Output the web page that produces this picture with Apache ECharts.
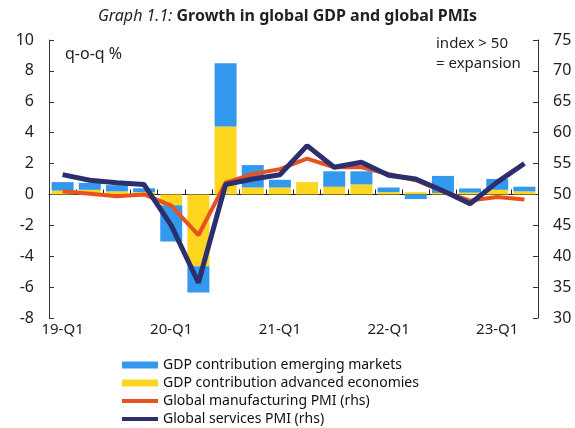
<!DOCTYPE html>
<html>
<head>
<meta charset="utf-8">
<script src="https://cdn.jsdelivr.net/npm/echarts@6/dist/echarts.min.js"></script>
<style>html,body{margin:0;padding:0;background:#fff}#c{width:575px;height:428px}</style>
</head>
<body>
<div id="c"></div>
<script>
var categories = ['19-Q1','19-Q2','19-Q3','19-Q4','20-Q1','20-Q2','20-Q3','20-Q4','21-Q1','21-Q2','21-Q3','21-Q4','22-Q1','22-Q2','22-Q3','22-Q4','23-Q1','23-Q2'];
var gdpAdvanced = [0.25,0.3,0.2,0.15,-0.7,-4.65,4.4,0.45,0.45,0.8,0.5,0.65,0.15,0.15,0.1,0.12,0.3,0.2];
var gdpEmerging = [0.55,0.45,0.4,0.25,-2.35,-1.7,4.1,1.45,0.5,0.0,1.0,0.85,0.3,-0.3,1.1,0.27,0.7,0.3];
var pmiManufacturing = [50.5,50.1,49.7,50.0,48.2,43.4,51.9,53.3,54.1,55.8,54.4,54.4,53.3,52.3,50.5,49.0,49.6,49.2];
var pmiServices = [53.2,52.3,51.9,51.6,45.0,35.7,51.6,52.5,53.2,57.9,54.4,55.2,53.1,52.5,50.6,48.5,52.0,55.0];
var leftTicks = {min:-8, max:10, interval:2};
var rightTicks = {min:30, max:75, interval:5};

var FONT = '"Noto Sans", sans-serif';
var chart = echarts.init(document.getElementById('c'), null, {renderer:'canvas'});
var axisCol = '#333';
var lineIcon = 'path://M0,0M36,7M0,1.6h36v3.8h-36z';
chart.setOption({
  animation:false,
  textStyle:{fontFamily:FONT},
  title:{
    text:'{a|Graph 1.1: }{b|Growth in global GDP and global PMIs}',
    left:'center', top:3,
    textStyle:{rich:{
      a:{fontFamily:FONT, fontStyle:'italic', fontWeight:'normal', fontSize:16, color:'#222'},
      b:{fontFamily:FONT, fontWeight:'bold', fontSize:16, color:'#222'}
    }}
  },
  grid:{left:49, right:37, top:40, bottom:110},
  legend:{
    orient:'vertical', left:117, top:352, height:110,
    itemWidth:36, itemHeight:7, itemGap:2,
    textStyle:{fontFamily:FONT, fontSize:14, color:'#111', lineHeight:16},
    data:[
      {name:'GDP contribution emerging markets', icon:'rect'},
      {name:'GDP contribution advanced economies', icon:'rect'},
      {name:'Global manufacturing PMI (rhs)', icon:lineIcon},
      {name:'Global services PMI (rhs)', icon:lineIcon}
    ]
  },
  xAxis:[
    {type:'category', data:categories, position:'bottom',
     axisLine:{onZero:true, lineStyle:{color:'#222', width:1}},
     axisTick:{show:true, inside:true, length:5, interval:0, lineStyle:{color:'#222'}},
     axisLabel:{show:false}, splitLine:{show:false}},
    {type:'category', data:categories, position:'bottom',
     axisLine:{show:false}, axisTick:{show:false},
     axisLabel:{interval:3, margin:4, fontFamily:FONT, fontSize:15, color:'#222'}}
  ],
  yAxis:[
    {type:'value', min:leftTicks.min, max:leftTicks.max, interval:leftTicks.interval,
     axisLine:{show:true, onZero:false, lineStyle:{color:axisCol}},
     axisTick:{show:true, inside:true, length:5, lineStyle:{color:axisCol}},
     axisLabel:{margin:15, fontFamily:FONT, fontSize:16, color:'#222'},
     splitLine:{show:false}},
    {type:'value', min:rightTicks.min, max:rightTicks.max, interval:rightTicks.interval, position:'right',
     axisLine:{show:true, onZero:false, lineStyle:{color:axisCol}},
     axisTick:{show:true, inside:true, length:5, lineStyle:{color:axisCol}},
     axisLabel:{margin:15, fontFamily:FONT, fontSize:16, color:'#222'},
     splitLine:{show:false}}
  ],
  series:[
    {name:'GDP contribution advanced economies', type:'bar', stack:'gdp', data:gdpAdvanced,
     barCategoryGap:'19%', itemStyle:{color:'#FFD61F'}, xAxisIndex:0, yAxisIndex:0},
    {name:'GDP contribution emerging markets', type:'bar', stack:'gdp', data:gdpEmerging,
     barCategoryGap:'19%', itemStyle:{color:'#3399EE'}, xAxisIndex:0, yAxisIndex:0},
    {name:'Global manufacturing PMI (rhs)', type:'line', data:pmiManufacturing, yAxisIndex:1, xAxisIndex:0,
     symbol:'none', lineStyle:{color:'#E8521E', width:4}, itemStyle:{color:'#E8521E'}, z:3},
    {name:'Global services PMI (rhs)', type:'line', data:pmiServices, yAxisIndex:1, xAxisIndex:0,
     symbol:'none', lineStyle:{color:'#2B2F6E', width:5}, itemStyle:{color:'#2B2F6E'}, z:4}
  ],
  graphic:[
    {type:'text', left:65, top:46, style:{text:'q-o-q %', font:'16px '+FONT, fill:'#222'}},
    {type:'text', left:436, top:36, style:{text:'index > 50', font:'15px '+FONT, fill:'#222'}},
    {type:'text', left:436, top:56, style:{text:'= expansion', font:'15px '+FONT, fill:'#222'}}
  ]
});
</script>
</body>
</html>
